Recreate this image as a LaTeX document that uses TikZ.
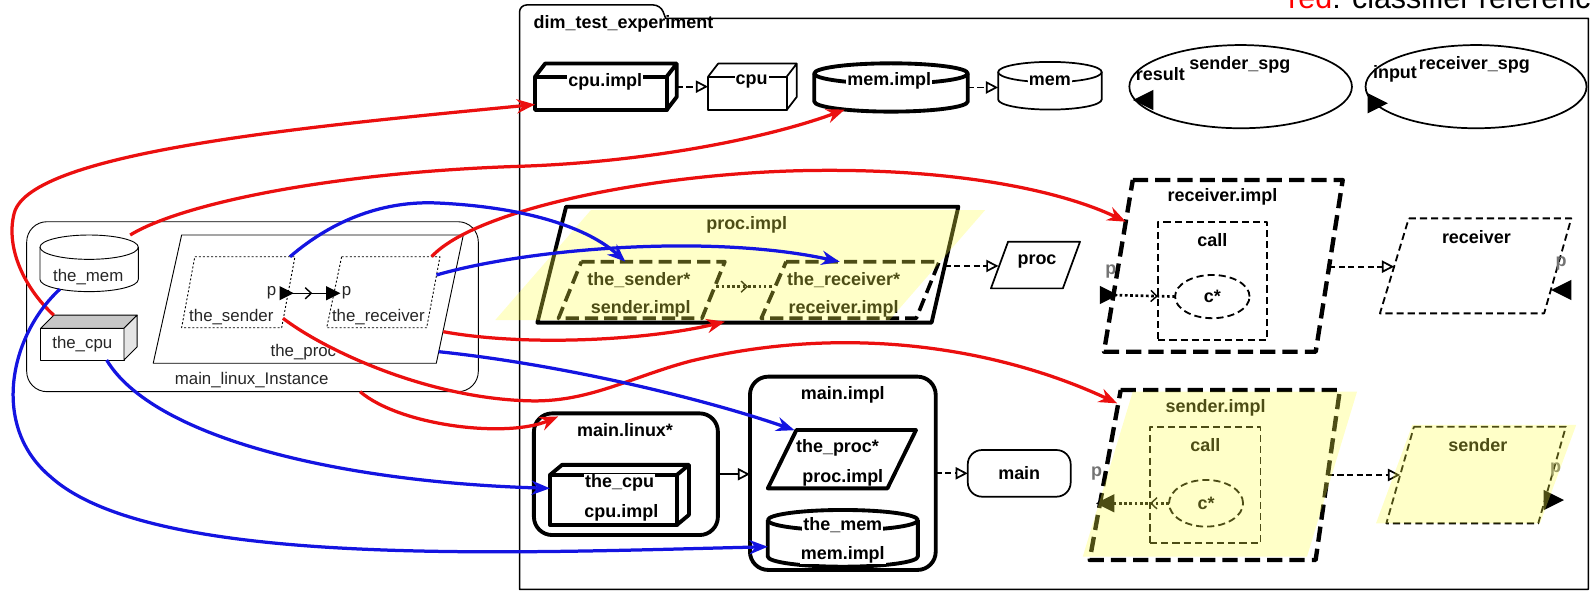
\documentclass[tikz,border=0pt]{standalone}
\usepackage{fontspec}
\setmainfont{Liberation Sans}
\usetikzlibrary{shapes.geometric,arrows.meta,decorations.markings}
\definecolor{refred}{RGB}{235,15,15}
\definecolor{refblue}{RGB}{20,20,225}
\definecolor{implyel}{RGB}{255,255,72}
\tikzset{
  lbl/.style={font=\fontsize{17.7}{20}\selectfont\bfseries, inner sep=1pt},
  ilbl/.style={font=\fontsize{16.6}{19}\selectfont, text=black!85, inner sep=1pt},
  plbl/.style={lbl, text=black!55},
  onedge/.style={fill=white},
  box/.style={draw, outer sep=0pt},
  thinline/.style={line width=0.9pt},
  typeline/.style={line width=1.7pt},
  implline/.style={line width=3.8pt},
  impldash/.style={line width=4.3pt, dash pattern=on 15pt off 7pt},
  partdash/.style={line width=3.6pt, dash pattern=on 13pt off 6pt},
  typedash/.style={line width=1.8pt, dash pattern=on 7pt off 4pt},
  instdot/.style={line width=0.9pt, dash pattern=on 2pt off 2pt},
  portdot/.style={line width=2.6pt, dash pattern=on 2.6pt off 2.6pt},
  gen/.style={typeline, -{Triangle[fill=white, length=12pt, width=12pt]}},
  gendash/.style={gen, dash pattern=on 6pt off 3.5pt},
  classref/.style={line width=3.2pt, refred, -{Stealth[length=18pt, width=14pt]}},
  partref/.style={line width=3.2pt, refblue, -{Stealth[length=18pt, width=14pt]}},
  midarrow/.style={postaction={decorate}, decoration={markings,
    mark=at position #1 with {\arrow{Straight Barb[length=6pt, width=11pt, line width=1.4pt]}}}},
  yellowpart/.style={fill=implyel, fill opacity=0.3},
}
\begin{document}
\begin{tikzpicture}[x=1pt, y=-1pt, line join=round]
\useasboundingbox (0,0) rectangle (1568,582);
\node[anchor=base west, font=\fontsize{30}{36}\selectfont, inner sep=0pt] (legend) at (1269.5,8.2) {\textcolor{red}{red}: classifier reference};

% main_linux_Instance
\node[box, thinline, rounded corners=20pt, minimum width=445.1pt, minimum height=167.5pt] (inst) at (248.85,302.25) {};
\node[ilbl] (instT) at (248,374.5) {main\_linux\_Instance};
\node[minimum width=96.9pt, minimum height=55.8pt, outer sep=0pt] (imem) at (87.85,259.5) {};
\draw[thinline] (87.85,243.6) ellipse [x radius=48.45, y radius=12];
\draw[thinline] (39.4,243.6) -- (39.4,275.4) arc [start angle=180, end angle=0, x radius=48.45, y radius=12] -- (136.3,243.6);
\node[ilbl] (imemT) at (87,272.7) {the\_mem};
\node[box, thinline, ilbl, minimum width=82.2pt, minimum height=31.2pt] (icpu) at (81.1,339.2) {the\_cpu};
\filldraw[thinline, fill=black!22] (icpu.north west) -- ++(13,-13) -- ([shift={(13,-13)}]icpu.north east) -- (icpu.north east) -- cycle;
\filldraw[thinline, fill=black!10] (icpu.north east) -- ++(13,-13) -- ([shift={(13,-13)}]icpu.south east) -- (icpu.south east) -- cycle;
\draw[thinline] (179,231.6) -- (456.6,231.6) -- (430,358) -- (151,358) -- cycle;
\node[ilbl] (iprocT) at (299,346.6) {the\_proc};
\draw[instdot] (192,253) -- (290.7,253) -- (277.6,323) -- (179,323) -- cycle;
\node[ilbl] (isendT) at (228,312.7) {the\_sender};
\draw[instdot] (336.7,253) -- (433.6,253) -- (420.5,323) -- (322,323) -- cycle;
\node[ilbl] (irecvT) at (372.9,312.7) {the\_receiver};
\coordinate (isp) at (282.5,289);
\coordinate (irp) at (328.5,289);
\node[ilbl] (ispT) at (267.7,288) {p};
\node[ilbl] (irpT) at (341.6,288) {p};
\draw[thinline, midarrow=0.55] (isp) -- (irp);

% dim_test_experiment
\draw[line width=1.5pt] (512,580.8) [rounded corners=7pt] -- (512,4.9) -- (651,4.9) [sharp corners] -- (656,18) -- (1565.3,18) -- (1565.3,580.8) -- cycle;
\node[lbl] (dimT) at (614.5,23.6) {dim\_test\_experiment};

\node[box, implline, minimum width=129.7pt, minimum height=32.8pt] (cpuimpl) at (592.15,92) {};
\draw[implline] (cpuimpl.north west) -- ++(10,-13) -- ([shift={(10,-13)}]cpuimpl.north east) -- ([shift={(10,-13)}]cpuimpl.south east) -- (cpuimpl.south east) (cpuimpl.north east) -- ++(10,-13);
\node[lbl, onedge] (cpuimplT) at (596.5,80.5) {cpu.impl};
\node[box, typeline, minimum width=77.5pt, minimum height=32.8pt] (cpu) at (736.55,92) {};
\draw[typeline] (cpu.north west) -- ++(10,-13) -- ([shift={(10,-13)}]cpu.north east) -- ([shift={(10,-13)}]cpu.south east) -- (cpu.south east) (cpu.north east) -- ++(10,-13);
\node[lbl, onedge] (cpuT) at (740.7,80.5) {cpu};
\draw[gendash] ([shift={(10,-6.6)}]cpuimpl.east) -- ([yshift=6.6pt]cpu.west);

\node[minimum width=151.3pt, minimum height=47.6pt, outer sep=0pt] (memimpl) at (878.15,86.2) {};
\draw[implline] (878.15,72.4) ellipse [x radius=75.65, y radius=10];
\draw[implline] (802.5,72.4) -- (802.5,100) arc [start angle=180, end angle=0, x radius=75.65, y radius=10] -- (953.8,72.4);
\node[lbl, onedge] (memimplT) at (876.4,80) {mem.impl};
\node[minimum width=102.1pt, minimum height=47pt, outer sep=0pt] (mem) at (1034.75,84.5) {};
\draw[typeline] (1034.75,71) ellipse [x radius=51.05, y radius=10];
\draw[typeline] (983.7,71) -- (983.7,98) arc [start angle=180, end angle=0, x radius=51.05, y radius=10] -- (1085.8,71);
\node[lbl, onedge] (memT) at (1034.75,80) {mem};
\draw[gendash] (memimpl.east) -- (memimpl.east -| mem.west);

\node[box, typeline, ellipse, minimum width=219.4pt, minimum height=82pt] (sspg) at (1222.7,85.4) {};
\node[lbl] (sspgT) at (1221.9,64) {sender\_spg};
\node[lbl] (resT) at (1143.6,72.9) {result};
\coordinate (resp) at (1126.6,98.6);
\node[box, typeline, ellipse, minimum width=217.8pt, minimum height=82pt] (rspg) at (1454.7,85.4) {};
\node[lbl] (rspgT) at (1453,64) {receiver\_spg};
\node[lbl] (inT) at (1374.8,72.9) {input};
\coordinate (inp) at (1357.8,101.8);

% proc.impl
\draw[implline] (557.9,203.7) -- (944.5,203.7) -- (918.1,318) -- (529.6,318) -- cycle;
\node[lbl] (procimplT) at (735.9,221.7) {proc.impl};
\draw[partdash] (573,257.9) -- (714.4,257.9) -- (691.8,313.7) -- (550.4,313.7) -- cycle;
\node[lbl] (psendT) at (629.6,276) {the\_sender*};
\node[lbl] (psendI) at (631.5,303.9) {sender.impl};
\draw[partdash] (774.8,257.9) -- (925.6,257.9) -- (903,313.7) -- (750.3,313.7) -- cycle;
\node[lbl] (precvT) at (831.4,276) {the\_receiver*};
\node[lbl] (precvI) at (831.4,303.9) {receiver.impl};
\coordinate (psendR) at (706,282.5);
\coordinate (precvL) at (763,282.5);
\draw[portdot, midarrow=0.55] (psendR) -- (precvL);
\draw[typeline] (993.5,238.2) -- (1064.4,238.2) -- (1047.5,284.2) -- (976.6,284.2) -- cycle;
\node[lbl] (procT) at (1022,258) {proc};
\coordinate (procimplR) at (931,262.1);
\coordinate (procL) at (984,262.1);
\draw[gendash] (procimplR) -- (procL);

% receiver.impl
\draw[impldash] (1116.4,177.4) -- (1323.3,177.4) -- (1296.7,346.6) -- (1088,346.6) -- cycle;
\node[lbl] (rimplT) at (1204.8,193.8) {receiver.impl};
\node[box, typedash, minimum width=107.3pt, minimum height=116.5pt] (rcall) at (1195.15,276.75) {};
\node[lbl] (rcallT) at (1194.8,236.5) {call};
\node[box, typedash, ellipse, minimum width=73.4pt, minimum height=42.6pt, lbl] (rc) at (1194.8,292.3) {c*};
\coordinate (rimplp) at (1093,290.7);
\node[plbl] (rimplpT) at (1094.7,267.7) {p};
\draw[portdot, midarrow=0.74] (rimplp) -- (rc.west);
\draw[typedash] (1388.4,215.2) -- (1548.6,215.2) -- (1521.8,308.8) -- (1360,308.8) -- cycle;
\node[lbl] (recvT) at (1455.1,233.2) {receiver};
\coordinate (recvp) at (1538.6,285.8);
\node[plbl] (recvpT) at (1538.6,259.5) {p};
\coordinate (rimplR) at (1309.9,262.8);
\coordinate (recvL) at (1374,262.8);
\draw[gendash] (rimplR) -- (recvL);

% sender.impl
\draw[impldash] (1104.5,384.4) -- (1320.5,384.4) -- (1296.6,551.9) -- (1073.9,551.9) -- cycle;
\node[lbl] (simplT) at (1198,402.4) {sender.impl};
\node[box, typedash, minimum width=108.8pt, minimum height=115pt] (scall) at (1187.9,478) {};
\node[lbl] (scallT) at (1187.9,438.6) {call};
\node[box, typedash, ellipse, minimum width=73pt, minimum height=46pt, lbl] (sc) at (1188.6,496) {c*};
\coordinate (simplp) at (1089.2,496);
\node[plbl] (simplpT) at (1080.7,466.5) {p};
\draw[portdot, midarrow=0.3] (sc.west) -- (simplp);
\draw[typedash] (1393.5,420.5) -- (1543.2,420.5) -- (1516,515.8) -- (1366.3,515.8) -- cycle;
\node[lbl] (sendT) at (1456.5,438.6) {sender};
\coordinate (sendp) at (1531.3,492.8);
\node[plbl] (sendpT) at (1533,463.2) {p};
\coordinate (simplR) at (1308.6,468.1);
\coordinate (sendL) at (1379.9,468.1);
\draw[gendash] (simplR) -- (sendL);

% main.linux* and main.impl
\node[box, implline, rounded corners=18pt, minimum width=181.3pt, minimum height=119.9pt] (mlinux) at (616.85,467.35) {};
\node[lbl] (mlinuxT) at (616,423.8) {main.linux*};
\node[box, implline, minimum width=125pt, minimum height=49.3pt] (pcpu) at (604.5,492.75) {};
\draw[implline] (pcpu.north west) -- ++(12,-10) -- ([shift={(12,-10)}]pcpu.north east) -- ([shift={(12,-10)}]pcpu.south east) -- (pcpu.south east) (pcpu.north east) -- ++(12,-10);
\node[lbl, onedge] (pcpuT) at (610.7,476.3) {the\_cpu};
\node[lbl, onedge] (pcpuI) at (612.4,505.9) {cpu.impl};
\node[box, implline, rounded corners=18pt, minimum width=183.1pt, minimum height=190.5pt] (mainimpl) at (830.65,466.45) {};
\node[lbl] (mainimplT) at (830.6,389.3) {main.impl};
\draw[implline] (784.9,423.8) -- (902.8,423.8) -- (874.6,481.3) -- (756.7,481.3) -- cycle;
\node[lbl] (pprocT) at (825.4,441.8) {the\_proc*};
\node[lbl] (pprocI) at (830.6,471.4) {proc.impl};
\node[minimum width=147.9pt, minimum height=55.9pt, outer sep=0pt] (pmem) at (830.65,530.55) {};
\draw[implline] (830.65,512.6) ellipse [x radius=73.95, y radius=10];
\draw[implline] (756.7,512.6) -- (756.7,548.5) arc [start angle=180, end angle=0, x radius=73.95, y radius=10] -- (904.6,512.6);
\node[lbl, onedge] (pmemT) at (830.6,517.4) {the\_mem};
\node[lbl, onedge] (pmemI) at (830.6,547) {mem.impl};
\draw[gen] (mlinux.east) -- (mlinux.east -| mainimpl.west);
\node[box, typeline, rounded corners=14pt, minimum width=101.4pt, minimum height=46pt, lbl] (main) at (1004.5,466.5) {main};
\draw[gendash] (mainimpl.east) -- (mainimpl.east -| main.west);

% ports
\foreach \p/\d/\s in {isp/1/7, irp/1/7, resp/-1/10, inp/1/10, rimplp/1/9, recvp/-1/10, simplp/-1/9, sendp/1/10}
  \fill (\p) ++({-(\d)*\s},-\s) -- ++({2*(\d)*\s},\s) -- ++({-2*(\d)*\s},\s) -- cycle;

% yellow fills
\fill[yellowpart] (582.4,207) -- (970.9,207) -- (876.6,315.4) -- (488.1,315.4) -- cycle;
\fill[yellowpart] (1116.4,386) -- (1337.4,386) -- (1288.1,548.6) -- (1067.1,548.6) -- cycle;
\fill[yellowpart] (1391.9,418.8) -- (1553.4,418.8) -- (1517.7,515.8) -- (1356.1,515.8) -- cycle;

% classifier references
\coordinate (irecvA) at (425.4,252.9);
\coordinate (rimplA) at (1109.5,218.5);
\coordinate (iprocA) at (436.9,326.9);
\coordinate (procimplB) at (714.4,317);
\coordinate (isendA) at (278.9,313.7);
\coordinate (simplA) at (1101,397.5);
\draw[classref] ([shift={(13,-13)}]icpu.north west) .. controls (25,285) and (5,245) .. (14,210) .. controls (30,150) and (300,125) .. ([yshift=-11pt]cpuimpl.west);
\draw[classref] ([xshift=-8pt]imem.north east) .. controls (180,200) and (330,170) .. (509,164) .. controls (640,160) and (760,135) .. ([shift={(30,-2)}]memimpl.south west);
\draw[classref] (irecvA) .. controls (470,205) and (650,170) .. (800,168) .. controls (950,166) and (1050,190) .. (rimplA);
\draw[classref] (iprocA) .. controls (520,342) and (640,335) .. (procimplB);
\draw[classref] (isendA) .. controls (320,345) and (420,392) .. (520,395) .. controls (580,397) and (620,372) .. (680,356) .. controls (850,315) and (1000,350) .. (simplA);
\draw[classref] ([xshift=106pt]inst.south) .. controls (395,420) and (500,432) .. ([shift={(24,3)}]mlinux.north west);

% part references
\coordinate (isendB) at (285.8,253);
\coordinate (psendA) at (616.4,257.9);
\coordinate (irecvB) at (430.2,271);
\coordinate (precvA) at (827.6,258);
\coordinate (iprocB) at (432.4,346.6);
\coordinate (pprocA) at (783,424);
\coordinate (imemB) at (59,285);
\draw[partref] (isendB) .. controls (330,215) and (380,198) .. (430,200) .. controls (520,204) and (580,225) .. (psendA);
\draw[partref] (irecvB) .. controls (520,245) and (700,230) .. (precvA);
\draw[partref] (iprocB) .. controls (560,360) and (700,395) .. (pprocA);
\draw[partref] ([xshift=24pt]icpu.south) .. controls (150,430) and (330,475) .. ([yshift=11.5pt]pcpu.west);
\draw[partref] (imemB) .. controls (10,330) and (-10,420) .. (50,470) .. controls (150,560) and (500,545) .. ([yshift=-8.3pt]pmem.west);
\end{tikzpicture}
\end{document}
